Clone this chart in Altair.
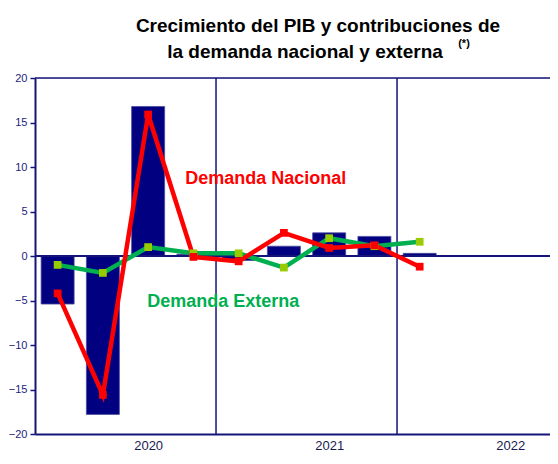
import altair as alt
import pandas as pd

# Quarter index: 1 = 2020 T1 ... 9 = 2022 T1
quarters = [1, 2, 3, 4, 5, 6, 7, 8, 9]
pib = [-5.4, -17.8, 16.8, 0.2, -0.5, 1.1, 2.6, 2.2, 0.3]
demanda_nacional = [-4.2, -15.6, 15.9, -0.1, -0.6, 2.6, 0.9, 1.2, -1.2]
demanda_externa = [-1.0, -1.9, 1.0, 0.3, 0.3, -1.3, 2.0, 1.1, 1.6]
year_labels = ["2020", "2021", "2022"]
year_label_pos = [3, 7, 11]
year_bounds = [4.5, 8.5]

NAVY = "#000080"
AXIS = "#14147a"
LABEL = "#1c1c7c"
XLABEL = "#1a1a50"
FONT = "Liberation Sans"

df = pd.DataFrame({"q": quarters, "pib": pib,
                   "dn": demanda_nacional, "de": demanda_externa})

xscale = alt.Scale(domain=[0.5, 11.88], nice=False, zero=False, padding=0)
yscale = alt.Scale(domain=[-20, 20], nice=False)

label_expr = " : ".join(
    f"datum.value == {p} ? '{l}'" for p, l in zip(year_label_pos, year_labels)
) + " : ''"

x_enc = alt.X("q:Q", scale=xscale,
              axis=alt.Axis(values=year_label_pos, labelExpr=label_expr, ticks=False,
                            grid=False, title=None, domainColor=AXIS, domainWidth=2,
                            labelColor=XLABEL, labelFontSize=13, labelFont=FONT,
                            labelPadding=5))
y_enc = alt.Y("pib:Q", scale=yscale,
              axis=alt.Axis(values=list(range(-20, 21, 5)), grid=False, title=None,
                            domainColor=AXIS, domainWidth=2, tickColor=AXIS, tickSize=5,
                            tickWidth=1.5, labelColor=LABEL, labelFontSize=11,
                            labelFont=FONT, labelPadding=3))

bars = alt.Chart(df).mark_bar(size=33, color=NAVY, stroke="#4a4aa0",
                              strokeWidth=0.8).encode(x=x_enc, y=y_enc)

zero = alt.Chart(pd.DataFrame({"y": [0]})).mark_rule(color=AXIS, strokeWidth=2).encode(
    y=alt.Y("y:Q", scale=yscale))
top = alt.Chart(pd.DataFrame({"y": [20]})).mark_rule(color=AXIS, strokeWidth=1.5).encode(
    y=alt.Y("y:Q", scale=yscale))
vlines = alt.Chart(pd.DataFrame({"x": year_bounds})).mark_rule(
    color=AXIS, strokeWidth=1.5).encode(x=alt.X("x:Q", scale=xscale))

red_line = alt.Chart(df).mark_line(color="#ff0000", strokeWidth=4.5).encode(
    x=alt.X("q:Q", scale=xscale), y=alt.Y("dn:Q", scale=yscale))
red_pts = alt.Chart(df).mark_square(color="#ff0000", size=60, opacity=1).encode(
    x=alt.X("q:Q", scale=xscale), y=alt.Y("dn:Q", scale=yscale))
green_line = alt.Chart(df).mark_line(color="#00b050", strokeWidth=4.5).encode(
    x=alt.X("q:Q", scale=xscale), y=alt.Y("de:Q", scale=yscale))
green_pts = alt.Chart(df).mark_square(color="#99cc00", size=60, opacity=1).encode(
    x=alt.X("q:Q", scale=xscale), y=alt.Y("de:Q", scale=yscale))

ann = pd.DataFrame({"x": [5.6, 4.66], "y": [8.6, -5.2],
                    "t": ["Demanda Nacional", "Demanda Externa"],
                    "c": ["#ff0000", "#00b050"]})
ann_text = alt.Chart(ann).mark_text(font=FONT, fontSize=18, fontWeight="bold",
                                    baseline="middle", align="center").encode(
    x=alt.X("x:Q", scale=xscale), y=alt.Y("y:Q", scale=yscale),
    text="t:N", color=alt.Color("c:N", scale=None))

title_df = pd.DataFrame({"t": ["Crecimiento del PIB y contribuciones de",
                               "la demanda nacional y externa"],
                         "px": [283, 270], "py": [-52, -26]})
title = alt.Chart(title_df).mark_text(font=FONT, fontSize=19, fontWeight="bold",
                                      color="#000000", baseline="middle",
                                      align="center").encode(
    x=alt.X("px:Q", scale=None), y=alt.Y("py:Q", scale=None), text="t:N")
star = alt.Chart(pd.DataFrame({"t": ["(*)"], "px": [429], "py": [-34]})).mark_text(
    font=FONT, fontSize=11, fontWeight="bold", color="#000000", baseline="middle",
    align="center").encode(x=alt.X("px:Q", scale=None), y=alt.Y("py:Q", scale=None),
                           text="t:N")

chart = alt.layer(bars, zero, top, vlines, green_line, red_line, green_pts, red_pts,
                  ann_text, title, star).properties(
    width=515, height=356,
    autosize=alt.AutoSizeParams(type="none"),
    padding={"left": 27, "top": 70, "right": 0, "bottom": 18},
).configure_view(stroke=None).configure(background="white")

chart.save("out.html", embed_options={"renderer": "svg", "actions": False})
